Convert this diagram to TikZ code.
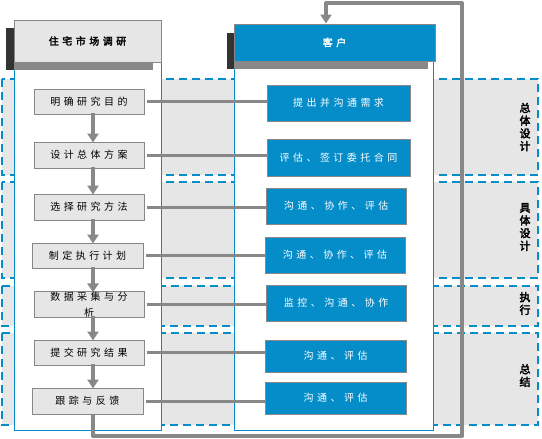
\documentclass[tikz,border=0pt]{standalone}
\usepackage{fontspec}
\newfontfamily\cjk[LetterSpace=35,AutoFakeBold=2.5]{Noto Sans CJK SC}
\newfontfamily\cjkside[AutoFakeBold=3]{Noto Sans CJK SC}
\usetikzlibrary{arrows.meta}
\definecolor{bandgray}{HTML}{E6E6E6}
\definecolor{boxgray}{HTML}{E6E6E6}
\definecolor{linegray}{HTML}{888888}
\definecolor{darkshade}{HTML}{333333}
\definecolor{mainblue}{HTML}{058DC9}
\tikzset{
  every node/.style={font=\cjk\fontsize{10}{16}\selectfont, inner sep=0pt},
  band/.style={fill=bandgray, draw=mainblue, line width=2.5pt, dash pattern=on 8pt off 5pt},
  lane/.style={fill=white, draw=mainblue, line width=0.9pt},
  stepbox/.style={draw=linegray, fill=boxgray, line width=1pt, minimum width=110pt, minimum height=25pt, align=center},
  bluebox/.style={draw=linegray, fill=mainblue, line width=1pt, text=white, minimum width=141pt, minimum height=36pt},
  conn/.style={draw=linegray, line width=3pt},
  flow/.style={draw=linegray, line width=4pt, -{Triangle[width=11pt,length=9pt]}},
  sidelabel/.style={font=\cjkside\bfseries\fontsize{11}{12.7}\selectfont, align=center}
}
\begin{document}
\begin{tikzpicture}[x=1pt,y=-1pt]
\useasboundingbox (0,0) rectangle (542,439);
% phase bands
\draw[band] (2,79) rectangle (538,175);
\draw[band] (2,182) rectangle (538,278);
\draw[band] (2,286) rectangle (538,326);
\draw[band] (2,333) rectangle (538,425);
% lanes
\draw[lane] (14,62) rectangle (161,430);
\draw[lane] (234,61) rectangle (433,430);
% header shadows
\fill[darkshade] (6,28) rectangle (14,70);
\fill[linegray] (14,62) rectangle (153,70);
\fill[darkshade] (227,33) rectangle (234,69);
\fill[linegray] (234,61) rectangle (428,69);
% headers
\node[draw=linegray, fill=boxgray, line width=1pt, minimum width=147pt, minimum height=42pt, font=\cjk\bfseries\fontsize{10}{12}\selectfont] (hL) at (87.5,41) {住宅市场调研};
\node[draw=linegray, fill=mainblue, line width=1pt, minimum width=201pt, minimum height=37pt, text=white, font=\cjk\bfseries\fontsize{10}{12}\selectfont] (hR) at (334.5,42.5) {客户};
% left steps
\node[stepbox] (L1) at (89,101.5) {明确研究目的};
\node[stepbox, minimum height=26pt] (L2) at (89,155) {设计总体方案};
\node[stepbox, minimum height=26pt] (L3) at (89,207) {选择研究方法};
\node[stepbox, minimum width=111pt] (L4) at (87.5,255.5) {制定执行计划};
\node[stepbox] (L5) at (89,304.5) {数据采集与分\\析};
\node[stepbox] (L6) at (89,352.5) {提交研究结果};
\node[stepbox, minimum width=111pt, minimum height=26pt] (L7) at (87.5,401) {跟踪与反馈};
% right boxes
\node[bluebox, minimum width=143pt] (R1) at (338.5,103) {提出并沟通需求};
\node[bluebox, minimum width=143pt, minimum height=37pt] (R2) at (338.5,157.5) {评估、签订委托合同};
\node[bluebox, minimum width=140pt] (R3) at (336,206) {沟通、协作、评估};
\node[bluebox, minimum width=140pt] (R4) at (335,255) {沟通、协作、评估};
\node[bluebox, minimum width=140pt] (R5) at (336,303) {监控、沟通、协作};
\node[bluebox, minimum height=32pt] (R6) at (335.5,356) {沟通、评估};
\node[bluebox, minimum height=32pt] (R7) at (335.5,398) {沟通、评估};
% connectors
\foreach \i in {1,...,7}{
  \draw[conn] ([xshift=2pt]L\i.east) -- (L\i.east -| R\i.west);
}
% vertical flow arrows
\coordinate (ax) at (93,0);
\foreach \i/\j in {1/2,2/3,3/4,4/5,5/6,6/7}{
  \draw[flow] ([yshift=2pt]L\i.south -| ax) -- ([yshift=-1pt]L\j.north -| ax);
}
% feedback loop
\coordinate (fb1) at (93,436);
\coordinate (fb2) at (462,436);
\coordinate (fb3) at (462,3);
\coordinate (fb4) at (326,3);
\draw[draw=linegray, line width=4pt, line join=round, -{Triangle[width=11pt,length=9pt]}]
  (L7.south -| ax) -- (fb1) -- (fb2) -- (fb3) -- (fb4) -- (hR.north -| fb4);
% side labels
\node[sidelabel] (s1) at (525,127) {总\\体\\设\\计};
\node[sidelabel] (s2) at (525,227) {具\\体\\设\\计};
\node[sidelabel] (s3) at (525,303.5) {执\\行};
\node[sidelabel] (s4) at (525,375.5) {总\\结};
\end{tikzpicture}
\end{document}
